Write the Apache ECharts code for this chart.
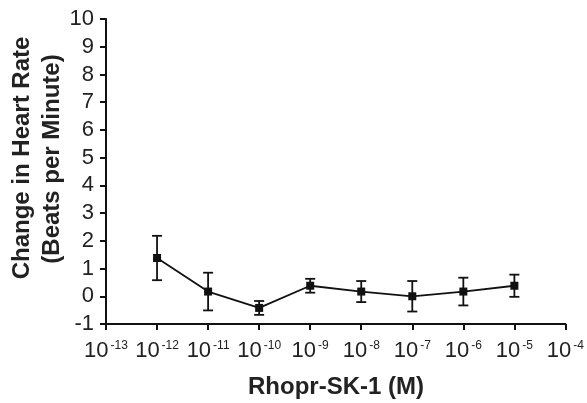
<!DOCTYPE html>
<html><head><meta charset="utf-8">
<script src="https://cdn.jsdelivr.net/npm/echarts@6/dist/echarts.min.js"></script>
<style>html,body{margin:0;padding:0;background:#fff}#c{width:587px;height:403px}</style>
</head><body><div id="c"></div>
<script>
const exponents = [-12, -11, -10, -9, -8, -7, -6, -5];
const means = [1.38, 0.17, -0.42, 0.38, 0.17, 0.0, 0.17, 0.38];
const errors = [0.8, 0.68, 0.25, 0.25, 0.38, 0.55, 0.5, 0.4];
const xTickExponents = [-13, -12, -11, -10, -9, -8, -7, -6, -5, -4];
const yTicks = [-1, 0, 1, 2, 3, 4, 5, 6, 7, 8, 9, 10];

const chart = echarts.init(document.getElementById('c'));
const font = '"Liberation Sans", Arial, sans-serif';
const lineData = exponents.map((e, i) => [e, means[i]]);
const errData = exponents.map((e, i) => [e, means[i] - errors[i], means[i] + errors[i]]);

chart.setOption({
  animation: false,
  grid: {left: 106, right: 21, top: 19, bottom: 79, containLabel: false},
  xAxis: {
    type: 'value', min: xTickExponents[0], max: xTickExponents[xTickExponents.length - 1], interval: 1,
    axisLine: {show: true, onZero: false, lineStyle: {color: '#111', width: 2}},
    axisTick: {show: true, length: 6, lineStyle: {color: '#111', width: 2}},
    splitLine: {show: false},
    axisLabel: {
      margin: 16, color: '#222',
      formatter: v => '{b|10}{s|' + v + '}',
      rich: {
        b: {fontFamily: font, fontSize: 22, color: '#222'},
        s: {fontFamily: font, fontSize: 12, color: '#222', verticalAlign: 'top', padding: [0, 0, 0, 2]}
      }
    }
  },
  yAxis: {
    type: 'value', min: yTicks[0], max: yTicks[yTicks.length - 1], interval: 1,
    axisLine: {show: true, onZero: false, lineStyle: {color: '#111', width: 2}},
    axisTick: {show: true, length: 6, lineStyle: {color: '#111', width: 2}},
    splitLine: {show: false},
    axisLabel: {margin: 12, color: '#222', fontFamily: font, fontSize: 22}
  },
  graphic: [
    {type: 'text', x: 22, y: 158, rotation: Math.PI / 2, style: {text: 'Change in Heart Rate', fontFamily: font, fontWeight: 'bold', fontSize: 24, fill: '#222', align: 'center', verticalAlign: 'middle'}},
    {type: 'text', x: 52, y: 159, rotation: Math.PI / 2, style: {text: '(Beats per Minute)', fontFamily: font, fontWeight: 'bold', fontSize: 24, fill: '#222', align: 'center', verticalAlign: 'middle'}},
    {type: 'text', x: 336, y: 387, style: {text: 'Rhopr-SK-1 (M)', fontFamily: font, fontWeight: 'bold', fontSize: 24, fill: '#222', align: 'center', verticalAlign: 'middle'}}
  ],
  series: [
    {
      type: 'custom',
      data: errData,
      z: 3,
      renderItem: function (params, api) {
        const x = api.value(0);
        const lo = api.coord([x, api.value(1)]);
        const hi = api.coord([x, api.value(2)]);
        const w = 5;
        const st = {stroke: '#111', lineWidth: 1.8};
        return {type: 'group', children: [
          {type: 'line', shape: {x1: lo[0], y1: lo[1], x2: hi[0], y2: hi[1]}, style: st},
          {type: 'line', shape: {x1: lo[0] - w, y1: lo[1], x2: lo[0] + w, y2: lo[1]}, style: st},
          {type: 'line', shape: {x1: hi[0] - w, y1: hi[1], x2: hi[0] + w, y2: hi[1]}, style: st}
        ]};
      }
    },
    {
      type: 'line', data: lineData, z: 4,
      symbol: 'rect', symbolSize: 8,
      lineStyle: {color: '#111', width: 1.8},
      itemStyle: {color: '#111'}
    }
  ]
});
</script></body></html>
